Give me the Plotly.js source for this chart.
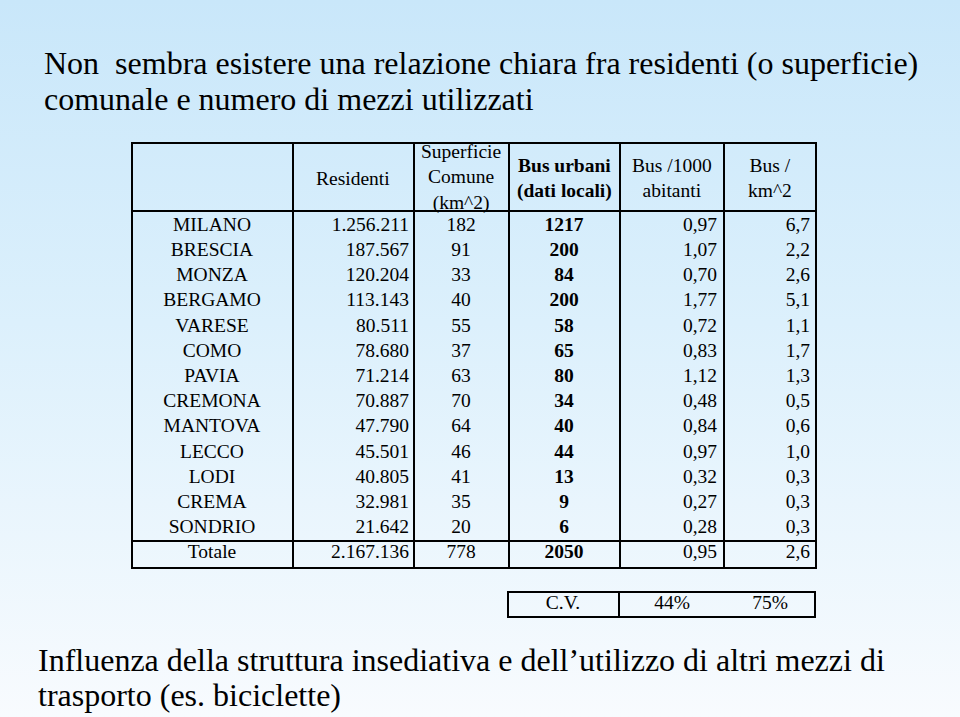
<!DOCTYPE html>
<html>
<head>
<meta charset="utf-8">
<script src="https://cdn.plot.ly/plotly-3.0.1.min.js"></script>
<style>
  html, body { margin: 0; padding: 0; }
  #slide {
    width: 960px; height: 717px;
    background: linear-gradient(to bottom, #c9e7fa 0%, #dcf0fc 45%, #f8fbfe 100%);
  }
</style>
</head>
<body>
<div id="slide"></div>
<script>
var cities = ["MILANO", "BRESCIA", "MONZA", "BERGAMO", "VARESE", "COMO", "PAVIA",
    "CREMONA", "MANTOVA", "LECCO", "LODI", "CREMA", "SONDRIO", "Totale"];
var residenti = ["1.256.211", "187.567", "120.204", "113.143", "80.511", "78.680", "71.214",
    "70.887", "47.790", "45.501", "40.805", "32.981", "21.642", "2.167.136"];
var superficie = ["182", "91", "33", "40", "55", "37", "63", "70", "64", "46", "41", "35", "20", "778"];
var busUrbani = ["1217", "200", "84", "200", "58", "65", "80", "34", "40", "44", "13", "9", "6", "2050"];
var busPer1000 = ["0,97", "1,07", "0,70", "1,77", "0,72", "0,83", "1,12",
    "0,48", "0,84", "0,97", "0,32", "0,27", "0,28", "0,95"];
var busPerKm2 = ["6,7", "2,2", "2,6", "5,1", "1,1", "1,7", "1,3",
    "0,5", "0,6", "1,0", "0,3", "0,3", "0,3", "2,6"];
var headers = ["", "Residenti", "Superficie<br>Comune<br>(km^2)", "<b>Bus urbani</b><br><b>(dati locali)</b>",
    "Bus /1000<br>abitanti", "Bus /<br>km^2"];
var cvLabels = ["C.V.", "44%", "75%"];

var W = 960, H = 717;
var FONT = "Liberation Serif, Times New Roman, serif";

// pixel helpers (layout only)
function px(p) { return p / W; }
function py(p) { return 1 - p / H; }
var rowTop = 226, rowStep = 25.2;

// column borders and text anchors
var colEdges = [132, 293, 414, 509, 620, 724, 816];
var colCenters = [212, 353, 461, 564, 672, 770];

function textTrace(values, x, pos, bold) {
    return {
        type: "scatter",
        mode: "text",
        x: values.map(function () { return x; }),
        y: values.map(function (v, i) { return i; }),
        text: values.map(function (v) { return bold ? "<b>" + v + "</b>" : v; }),
        textposition: pos,
        textfont: { family: FONT, size: 19.5, color: "#000" },
        hoverinfo: "skip",
        showlegend: false
    };
}

var traces = [
    textTrace(cities, colCenters[0], "middle center"),
    textTrace(residenti, colEdges[2] - 5, "middle left"),
    textTrace(superficie, colCenters[2], "middle center"),
    textTrace(busUrbani, colCenters[3], "middle center", true),
    textTrace(busPer1000, colEdges[5] - 7, "middle left"),
    textTrace(busPerKm2, colEdges[6] - 6, "middle left"),
    {
        type: "scatter",
        mode: "text",
        x: [563, colCenters[4], colCenters[5]],
        y: cvLabels.map(function () { return cities.length + 1; }),
        text: cvLabels,
        textposition: "middle center",
        textfont: { family: FONT, size: 19.5, color: "#000" },
        hoverinfo: "skip",
        showlegend: false
    }
];

var line = { color: "#000", width: 2 };
var shapes = [
    { type: "rect", xref: "paper", yref: "paper", x0: px(132), x1: px(816), y0: py(143), y1: py(568), line: line },
    { type: "line", xref: "paper", yref: "paper", x0: px(132), x1: px(816), y0: py(211), y1: py(211), line: line },
    { type: "line", xref: "paper", yref: "paper", x0: px(132), x1: px(816), y0: py(541), y1: py(541), line: line },
    { type: "rect", xref: "paper", yref: "paper", x0: px(508), x1: px(815), y0: py(592), y1: py(617), line: line },
    { type: "line", xref: "paper", yref: "paper", x0: px(619), x1: px(619), y0: py(592), y1: py(617), line: line }
];
colEdges.slice(1, -1).forEach(function (e) {
    shapes.push({ type: "line", xref: "paper", yref: "paper", x0: px(e), x1: px(e), y0: py(143), y1: py(568), line: line });
});

var annotations = [];
var headerY = [178, 178, 177, 178, 178, 178];
headers.forEach(function (h, i) {
    if (!h) return;
    annotations.push({
        xref: "paper", yref: "paper", x: px(colCenters[i]), y: py(headerY[i]),
        text: h, showarrow: false, xanchor: "center", yanchor: "middle", align: "center",
        font: { family: FONT, size: 19.5, color: "#000" }
    });
});

function textLine(txt, x, y) {
    annotations.push({
        xref: "paper", yref: "paper", x: px(x), y: py(y), xanchor: "left", yanchor: "middle", align: "left",
        showarrow: false, text: txt,
        font: { family: FONT, size: 32, color: "#000" }
    });
}
textLine("Non  sembra esistere una relazione chiara fra residenti (o superficie)", 42, 63);
textLine("comunale e numero di mezzi utilizzati", 42, 99);
textLine("Influenza della struttura insediativa e dell\u2019utilizzo di altri mezzi di", 36, 660);
textLine("trasporto (es. biciclette)", 36, 695);

var layout = {
    width: W,
    height: H,
    margin: { l: 0, r: 0, t: 0, b: 0 },
    paper_bgcolor: "rgba(0,0,0,0)",
    plot_bgcolor: "rgba(0,0,0,0)",
    xaxis: { range: [0, W], visible: false, fixedrange: true },
    yaxis: { range: [(H - rowTop) / rowStep, -rowTop / rowStep], visible: false, fixedrange: true },
    shapes: shapes,
    annotations: annotations
};

Plotly.newPlot("slide", traces, layout, { staticPlot: true, displayModeBar: false });
</script>
</body>
</html>
